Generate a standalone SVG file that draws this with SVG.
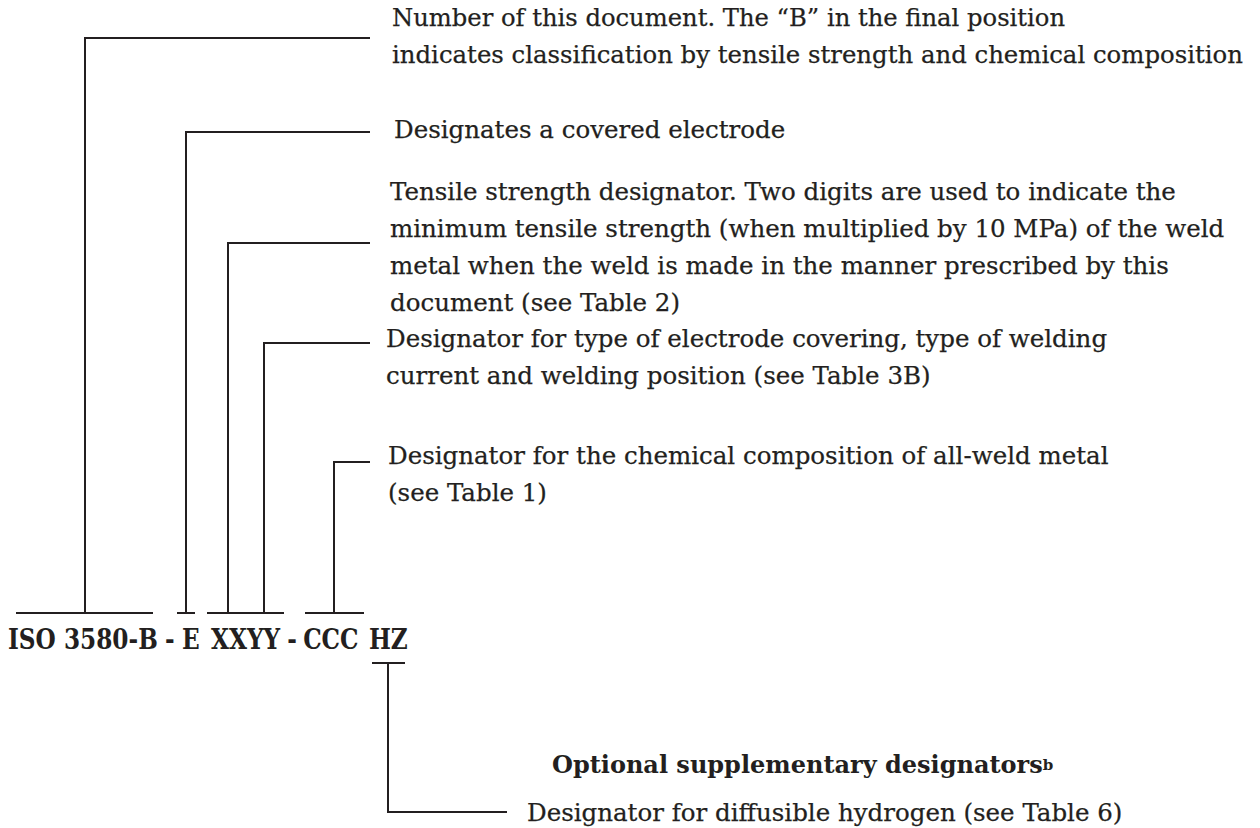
<svg xmlns="http://www.w3.org/2000/svg" width="1260" height="828" viewBox="0 0 1260 828">
<style>
.t{font-family:"DejaVu Serif","Liberation Serif",serif;font-size:24.5px;fill:#231f20;stroke:#231f20;stroke-width:0.25}
.b{font-family:"DejaVu Serif","Liberation Serif",serif;font-weight:bold;font-size:27px;fill:#231f20}
.h{font-family:"DejaVu Serif","Liberation Serif",serif;font-weight:bold;font-size:24px;fill:#231f20}
.c{fill:none;stroke:#231f20;stroke-width:2}
</style>
<rect width="1260" height="828" fill="#ffffff"/>
<g id="connectors">
<path class="c" d="M16 613H153M85 613V38H370"/>
<path class="c" d="M177 613H195M186 613V132H370"/>
<path class="c" d="M207 613H284M228 613V243H370M264 613V343H370"/>
<path class="c" d="M305 613H364M334 613V462H370"/>
<path class="c" d="M372 663H405M388 663V812H507"/>
</g>
<g id="code" transform="scale(0.86,1)">
<text class="b" y="649"><tspan x="9.3">ISO 3580-B</tspan><tspan x="192">-</tspan><tspan x="211.6">E</tspan><tspan x="245.3">XXYY</tspan><tspan x="334">-</tspan><tspan x="352.5">CCC</tspan><tspan x="429">HZ</tspan></text>
</g>
<g id="n-number">
<text class="t" x="392" y="26" textLength="673" lengthAdjust="spacingAndGlyphs">Number of this document. The “B” in the final position</text>
<text class="t" x="392" y="63" textLength="851" lengthAdjust="spacingAndGlyphs">indicates classification by tensile strength and chemical composition</text>
</g>
<g id="n-electrode">
<text class="t" x="394" y="138">Designates a covered electrode</text>
</g>
<g id="n-tensile">
<text class="t" x="390" y="200">Tensile strength designator. Two digits are used to indicate the</text>
<text class="t" x="390" y="237">minimum tensile strength (when multiplied by 10 MPa) of the weld</text>
<text class="t" x="390" y="274">metal when the weld is made in the manner prescribed by this</text>
<text class="t" x="390" y="311">document (see Table 2)</text>
</g>
<g id="n-covering">
<text class="t" x="386" y="347">Designator for type of electrode covering, type of welding</text>
<text class="t" x="386" y="384">current and welding position (see Table 3B)</text>
</g>
<g id="n-chem">
<text class="t" x="388" y="464">Designator for the chemical composition of all-weld metal</text>
<text class="t" x="388" y="501">(see Table 1)</text>
</g>
<g id="n-optional">
<text class="h" x="552" y="773">Optional supplementary designators<tspan font-size="15" dy="-3">b</tspan></text>
</g>
<g id="n-hydrogen">
<text class="t" x="527" y="821">Designator for diffusible hydrogen (see Table 6)</text>
</g>
</svg>
